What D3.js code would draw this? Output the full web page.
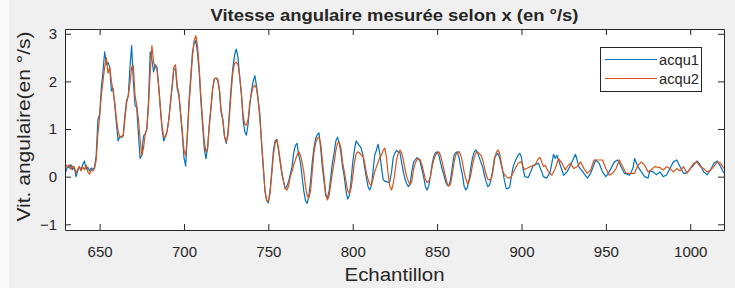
<!DOCTYPE html>
<html>
<head>
<meta charset="utf-8">
<script src="https://cdn.jsdelivr.net/npm/d3@7/dist/d3.min.js"></script>
<style>
  body { margin: 0; background: #f0f0f0; }
  text { font-family: "Liberation Sans", Arial, Helvetica, sans-serif; fill: #262626; }
</style>
</head>
<body>
<svg id="chart"></svg>
<script>
// acqu1 : one value per sample from 630 to 902, then sparser points
var acqu1Start = 630
var acqu1Head = [
  0.10, 0.22, 0.18, 0.25, 0.15, 0.20, 0.00, 0.12, 0.20, 0.15,
  0.25, 0.33, 0.15, 0.20, 0.12, 0.18, 0.15, 0.20, 0.45, 1.20,
  1.30, 1.85, 2.20, 2.62, 2.35, 2.40, 2.30, 1.80, 1.85, 1.50,
  1.10, 0.75, 0.85, 0.82, 0.88, 1.30, 1.60, 1.70, 2.30, 2.75,
  2.00, 1.50, 1.45, 0.90, 0.38, 0.45, 0.85, 0.90, 1.00, 1.60,
  2.62, 2.45, 2.20, 2.35, 2.30, 1.90, 1.45, 1.00, 0.75, 0.85,
  0.95, 1.20, 1.55, 1.90, 2.27, 2.25, 1.85, 1.70, 1.30, 0.90,
  0.40, 0.22, 0.90, 1.60, 2.10, 2.60, 2.80, 2.86, 2.60, 2.20,
  1.60, 1.10, 0.60, 0.38, 0.60, 1.10, 1.45, 1.85, 2.05, 2.07,
  2.02, 1.80, 1.35, 1.20, 0.85, 0.70, 0.90, 1.40, 1.90, 2.30,
  2.55, 2.68, 2.50, 2.10, 1.75, 1.20, 0.95, 0.87, 1.10, 1.50,
  1.80, 2.00, 2.12, 1.90, 1.60, 1.30, 0.70, 0.20, -0.30, -0.50,
  -0.55, -0.30, 0.10, 0.55, 0.75, 0.78, 0.55, 0.30, 0.05, -0.10,
  -0.25, -0.20, -0.10, 0.05, 0.20, 0.50, 0.65, 0.70, 0.45, 0.30,
  0.00, -0.30, -0.50, -0.56, -0.40, -0.10, 0.30, 0.60, 0.80, 0.88,
  0.92, 0.60, 0.20, -0.10, -0.40, -0.45, -0.30, 0.00, 0.30, 0.50,
  0.75, 0.83, 0.70, 0.50, 0.20, 0.00, -0.30, -0.47, -0.40, -0.10,
  0.30, 0.56, 0.75, 0.70, 0.65, 0.60, 0.45, 0.20, 0.00, -0.20,
  -0.28, -0.20, 0.10, 0.45, 0.55, 0.68, 0.50, 0.20, -0.05, -0.10,
  -0.10, -0.12, -0.10, 0.10, 0.40, 0.50, 0.55, 0.52, 0.50, 0.30,
  0.10, -0.05, -0.15, -0.21, -0.15, 0.10, 0.30, 0.35, 0.40, 0.38,
  0.30, 0.15, 0.00, -0.20, -0.28, -0.20, 0.00, 0.25, 0.42, 0.50,
  0.52, 0.45, 0.30, 0.15, 0.04, -0.10, -0.18, -0.19, -0.05, 0.20,
  0.45, 0.50, 0.52, 0.40, 0.20, 0.04, -0.20, -0.28, -0.22, -0.05,
  0.20, 0.40, 0.52, 0.56, 0.50, 0.40, 0.30, 0.20, 0.04, -0.10,
  -0.21, -0.18, -0.05, 0.15, 0.40, 0.45, 0.49, 0.40, 0.25, 0.10,
  -0.10, -0.25, -0.25, -0.22, 0.00, 0.20, 0.30, 0.38, 0.45, 0.49,
  0.40, 0.15, 0.00
]
var acqu1TailX = [904, 907, 910, 912, 913, 915, 917, 919, 920, 921, 923, 925, 927, 929, 932, 934, 937, 939,
  941, 944, 946, 948, 950, 952, 955, 957, 959, 961, 964, 966, 967, 969, 971, 973, 975, 976, 978, 980,
  982, 984, 986, 988, 990, 992, 994, 996, 998, 1000, 1002, 1004, 1006, 1008, 1010, 1012, 1014, 1016, 1018, 1020]
var acqu1TailY = [-0.02, 0.24, 0.28, 0.10, 0.00, -0.03, 0.10, 0.47, 0.38, 0.45, 0.24, 0.03, 0.10, 0.24, 0.47, 0.21, 0.07, -0.03,
  0.07, 0.35, 0.28, 0.10, 0.00, 0.10, 0.31, 0.35, 0.21, 0.07, 0.03, 0.17, 0.38, 0.21, 0.10, 0.00, -0.03, 0.12, 0.10, 0.04,
  0.10, 0.00, 0.04, 0.17, 0.31, 0.35, 0.21, 0.07, 0.08, 0.17, 0.24, 0.33, 0.24, 0.10, 0.04, 0.14, 0.28, 0.33, 0.21, 0.07]

// acqu2 : same layout
var acqu2Start = 630
var acqu2Head = [
  0.25, 0.20, 0.25, 0.15, 0.22, 0.20, 0.08, 0.15, 0.22, 0.12,
  0.20, 0.15, 0.25, 0.10, 0.05, 0.15, 0.12, 0.17, 0.35, 0.90,
  1.25, 1.70, 2.00, 2.30, 2.50, 2.17, 2.30, 2.00, 1.80, 1.55,
  1.20, 0.95, 0.83, 0.85, 0.85, 1.20, 1.55, 1.70, 1.95, 2.30,
  2.33, 1.70, 1.50, 1.20, 0.80, 0.44, 0.60, 0.88, 1.00, 1.50,
  2.20, 2.75, 2.40, 2.30, 2.25, 1.90, 1.45, 1.05, 0.85, 0.83,
  0.95, 1.20, 1.55, 1.90, 2.30, 2.35, 1.90, 1.75, 1.35, 0.95,
  0.55, 0.45, 0.85, 1.50, 2.00, 2.50, 2.85, 2.96, 2.75, 2.30,
  1.70, 1.20, 0.75, 0.52, 0.60, 1.05, 1.45, 1.85, 2.05, 2.07,
  2.05, 1.85, 1.40, 1.20, 0.85, 0.73, 0.85, 1.30, 1.80, 2.20,
  2.38, 2.40, 2.35, 2.10, 1.75, 1.30, 1.10, 1.08, 1.20, 1.55,
  1.75, 1.88, 1.92, 1.85, 1.60, 1.20, 0.70, 0.20, -0.30, -0.50,
  -0.52, -0.35, 0.05, 0.45, 0.70, 0.78, 0.60, 0.35, 0.10, -0.10,
  -0.25, -0.28, -0.20, 0.00, 0.10, 0.25, 0.35, 0.45, 0.52, 0.45,
  0.30, 0.10, -0.20, -0.40, -0.45, -0.30, 0.10, 0.50, 0.70, 0.80,
  0.83, 0.70, 0.35, 0.00, -0.35, -0.49, -0.40, -0.15, 0.10, 0.30,
  0.55, 0.70, 0.73, 0.60, 0.30, 0.10, -0.10, -0.30, -0.35, -0.25,
  0.00, 0.30, 0.48, 0.52, 0.50, 0.45, 0.45, 0.30, 0.10, -0.05,
  -0.15, -0.18, -0.05, 0.10, 0.20, 0.30, 0.40, 0.45, 0.55, 0.60,
  0.40, 0.05, -0.20, -0.28, -0.15, 0.10, 0.35, 0.50, 0.56, 0.50,
  0.35, 0.15, 0.00, -0.10, -0.17, -0.10, 0.15, 0.28, 0.35, 0.38,
  0.35, 0.25, 0.10, -0.05, -0.12, -0.10, 0.00, 0.20, 0.35, 0.45,
  0.50, 0.52, 0.45, 0.30, 0.15, 0.00, -0.15, -0.20, -0.15, 0.05,
  0.30, 0.45, 0.50, 0.53, 0.45, 0.30, 0.10, -0.05, -0.14, -0.10,
  0.05, 0.25, 0.40, 0.50, 0.52, 0.48, 0.45, 0.35, 0.20, 0.05,
  -0.05, -0.07, -0.05, 0.10, 0.35, 0.50, 0.56, 0.50, 0.30, 0.10,
  0.04, 0.00, -0.03, -0.02, 0.00, 0.08, 0.15, 0.22, 0.28, 0.30,
  0.31, 0.20, 0.15
]
var acqu2TailX = [905, 908, 910, 911, 913, 914, 916, 918, 920, 922, 924, 926, 927, 929, 931, 933, 935, 937, 939,
  941, 943, 948, 950, 952, 954, 956, 958, 960, 962, 967, 969, 971, 973, 975, 977, 979, 982, 984, 986,
  988, 990, 992, 994, 996, 998, 1000, 1002, 1004, 1006, 1008, 1010, 1012, 1014, 1016, 1018, 1020]
var acqu2TailY = [0.21, 0.24, 0.38, 0.40, 0.21, 0.24, 0.10, 0.03, 0.17, 0.38, 0.28, 0.14, 0.21, 0.28, 0.17, 0.21, 0.31, 0.17, 0.07,
  0.14, 0.35, 0.35, 0.17, 0.03, 0.07, 0.17, 0.35, 0.21, 0.07, 0.07, 0.24, 0.31, 0.24, 0.10, 0.15, 0.21, 0.19, 0.14, 0.21,
  0.17, 0.10, 0.17, 0.12, 0.21, 0.07, 0.17, 0.28, 0.31, 0.21, 0.17, 0.10, 0.14, 0.21, 0.31, 0.28, 0.17]

var seriesNames = ["acqu1", "acqu2"]
var seriesColors = ["#0072BD", "#D95319"]
var xTicks = [650, 700, 750, 800, 850, 900, 950, 1000]
var yTicks = [-1, 0, 1, 2, 3]
var xDomain = [629.5, 1020]
var yDomain = [-1.12, 3.1]

var titleText = "Vitesse angulaire mesurée selon x (en °/s)"
var xLabel = "Echantillon"
var yLabel = "Vit. angulaire(en °/s)"

var width = 735
var height = 288
var plot = { left: 65, right: 724, top: 29, bottom: 230 }

function toPoints(start, head, tailX, tailY) {
  var pts = head.map((v, i) => [start + i, v])
  tailX.forEach((x, i) => pts.push([x, tailY[i]]))
  return pts
}

var series = [
  toPoints(acqu1Start, acqu1Head, acqu1TailX, acqu1TailY),
  toPoints(acqu2Start, acqu2Head, acqu2TailX, acqu2TailY)
]

let svg = d3.select("#chart")
  .attr("width", width)
  .attr("height", height)

// light strip on the left edge of the figure
svg.append("rect")
  .attr("x", 0).attr("y", 0)
  .attr("width", 9).attr("height", height)
  .attr("fill", "#fafafa")

svg.append("rect")
  .attr("x", plot.left).attr("y", plot.top)
  .attr("width", plot.right - plot.left)
  .attr("height", plot.bottom - plot.top)
  .attr("fill", "#ffffff")

var x = d3.scaleLinear().domain(xDomain).range([plot.left, plot.right])
var y = d3.scaleLinear().domain(yDomain).range([plot.bottom, plot.top])

svg.append("defs").append("clipPath")
  .attr("id", "clip")
  .append("rect")
  .attr("x", plot.left).attr("y", plot.top)
  .attr("width", plot.right - plot.left)
  .attr("height", plot.bottom - plot.top)

// data lines
var line = d3.line()
  .x(d => x(d[0]))
  .y(d => y(d[1]))

svg.append("g")
  .attr("clip-path", "url(#clip)")
  .selectAll("path")
  .data(series)
  .enter().append("path")
  .attr("d", line)
  .attr("fill", "none")
  .attr("stroke", (d, i) => seriesColors[i])
  .attr("stroke-width", 1.2)
  .attr("stroke-linejoin", "round")

// axes (ticks inward, box all round)
function styleAxis(g) {
  g.selectAll("path").attr("stroke", "#262626").attr("stroke-width", 1)
  g.selectAll("line").attr("stroke", "#262626")
  g.selectAll("text")
    .style("font-size", "15px")
    .attr("fill", "#262626")
}

var plainInt = d3.format("d")

svg.append("g")
  .attr("transform", "translate(0," + plot.bottom + ")")
  .call(d3.axisBottom(x).tickValues(xTicks).tickFormat(plainInt).tickSize(-6).tickSizeOuter(0).tickPadding(16))
  .call(styleAxis)

svg.append("g")
  .attr("transform", "translate(0," + plot.top + ")")
  .call(d3.axisTop(x).tickValues(xTicks).tickSize(-6).tickSizeOuter(0).tickFormat(""))
  .call(styleAxis)

svg.append("g")
  .attr("transform", "translate(" + plot.left + ",0)")
  .call(d3.axisLeft(y).tickValues(yTicks).tickFormat(plainInt).tickSize(-6).tickSizeOuter(0).tickPadding(8))
  .call(styleAxis)

svg.append("g")
  .attr("transform", "translate(" + plot.right + ",0)")
  .call(d3.axisRight(y).tickValues(yTicks).tickSize(-6).tickSizeOuter(0).tickFormat(""))
  .call(styleAxis)

// title and labels
var midX = (plot.left + plot.right) / 2

svg.append("text")
  .attr("x", midX).attr("y", 21)
  .attr("text-anchor", "middle")
  .attr("textLength", 368)
  .attr("lengthAdjust", "spacingAndGlyphs")
  .style("font-size", "16px")
  .style("font-weight", "bold")
  .text(titleText)

svg.append("text")
  .attr("x", midX).attr("y", 280.5)
  .attr("text-anchor", "middle")
  .attr("textLength", 100)
  .attr("lengthAdjust", "spacingAndGlyphs")
  .style("font-size", "18px")
  .text(xLabel)

svg.append("text")
  .attr("transform", "translate(30," + ((plot.top + plot.bottom) / 2 - 3) + ") rotate(-90)")
  .attr("text-anchor", "middle")
  .attr("textLength", 190)
  .attr("lengthAdjust", "spacingAndGlyphs")
  .style("font-size", "18px")
  .text(yLabel)

// legend
var legend = svg.append("g")
  .attr("transform", "translate(600.5,47.5)")

legend.append("rect")
  .attr("width", 101).attr("height", 44)
  .attr("fill", "#ffffff")
  .attr("stroke", "#262626")
  .attr("stroke-width", 1)

var items = legend.selectAll(".item")
  .data(seriesNames)
  .enter().append("g")
  .attr("class", "item")
  .attr("transform", (d, i) => "translate(0," + (12 + i * 19) + ")")

items.append("line")
  .attr("x1", 4.5).attr("x2", 56.5)
  .attr("stroke", (d, i) => seriesColors[i])
  .attr("stroke-width", 1.2)

items.append("text")
  .attr("x", 58.5).attr("y", 5.5)
  .attr("textLength", 40)
  .attr("lengthAdjust", "spacingAndGlyphs")
  .style("font-size", "14px")
  .text(d => d)
</script>
</body>
</html>
